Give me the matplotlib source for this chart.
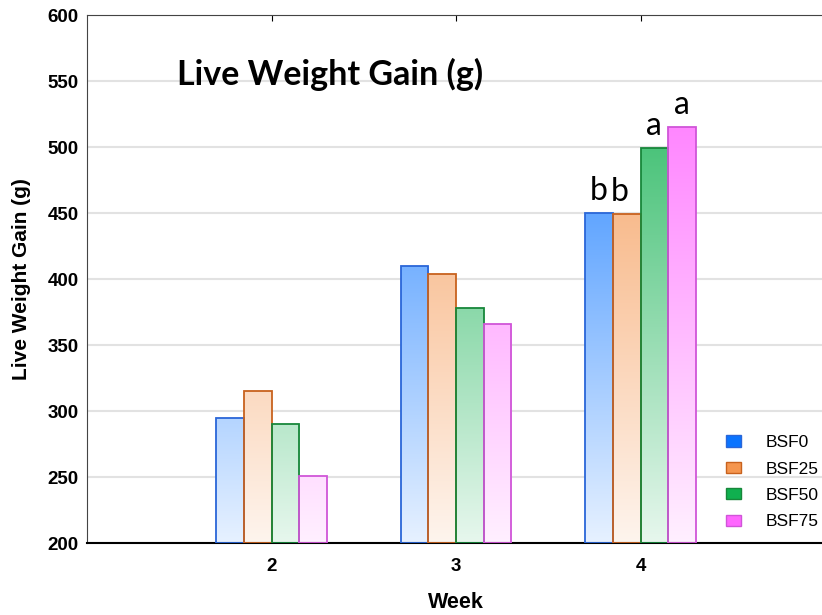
import numpy as np
import matplotlib
matplotlib.use("Agg")
import matplotlib.pyplot as plt
from matplotlib.patches import Rectangle, Patch
from matplotlib.colors import to_rgb

# data
weeks = [2, 3, 4]
groups = ["BSF0", "BSF25", "BSF50", "BSF75"]
gain = {
    "BSF0": [295, 410, 450],
    "BSF25": [315, 404, 449],
    "BSF50": [290, 378, 499],
    "BSF75": [251, 366, 515],
}
letters = {
    "BSF0": ["", "", "b"],
    "BSF25": ["", "", "b"],
    "BSF50": ["", "", "a"],
    "BSF75": ["", "", "a"],
}

fills = {"BSF0": "#0a74ff", "BSF25": "#f5964f", "BSF50": "#10b04f", "BSF75": "#ff66ff"}
edges = {"BSF0": "#2a66d8", "BSF25": "#c8621e", "BSF50": "#17873a", "BSF75": "#d055d8"}

ymin, ymax = 200, 600
bar_w = 0.15

plt.rcParams["font.family"] = ["Liberation Sans", "DejaVu Sans"]

fig = plt.figure(figsize=(8.22, 6.15), dpi=100)
ax = fig.add_axes([87 / 822, 1 - 543 / 615, 738 / 822, 528 / 615])


def gradient_img(color):
    """Column image from pale (ymin) to full colour (ymax)."""
    c = np.array(to_rgb(color))
    t = np.linspace(0, 1, 256)[:, None]
    f = 0.1 + 0.87 * t
    img = c[None, :] * f + (1 - f)
    return img[:, None, :]


for i, g in enumerate(groups):
    img = gradient_img(fills[g])
    for j, wk in enumerate(weeks):
        x0 = wk + (i - 2) * bar_w
        val = gain[g][j]
        rect = Rectangle((x0, ymin), bar_w, val - ymin, facecolor="none",
                         edgecolor=edges[g], linewidth=1.3, zorder=3)
        ax.add_patch(rect)
        im = ax.imshow(img, extent=[x0, x0 + bar_w, ymin, ymax], origin="lower",
                       aspect="auto", zorder=2, interpolation="bilinear")
        im.set_clip_path(rect)
        if letters[g][j]:
            dx = -5 if g == "BSF25" else 0
            ax.annotate(letters[g][j], (x0 + bar_w / 2, val), xytext=(dx, 5),
                        textcoords="offset points", ha="center", va="bottom",
                        fontsize=23, family=["Lato", "DejaVu Sans"])

ax.set_xlim(1, 5)
ax.set_ylim(ymin, ymax)
ax.set_xticks(weeks)
ax.set_yticks(np.arange(200, 601, 50))
ax.tick_params(axis="x", direction="in", length=4, top=True, bottom=False,
               labelbottom=True, labelsize=13.5, pad=11)
ax.tick_params(axis="y", length=0, labelsize=13.5, pad=6)
for lab in ax.get_xticklabels() + ax.get_yticklabels():
    lab.set_fontweight("bold")
ax.grid(axis="y", color="#e2e2e2", linewidth=1.5, zorder=0)
ax.set_axisbelow(True)
ax.spines["right"].set_visible(False)
ax.spines["left"].set_color("#444444")
ax.spines["bottom"].set_color("black")
ax.spines["bottom"].set_linewidth(1.5)
ax.spines["top"].set_color("#444444")

ax.set_xlabel("Week", fontsize=15.5, fontweight="bold", labelpad=12)
ax.set_ylabel("Live Weight Gain (g)", fontsize=15, fontweight="bold", labelpad=12)

ax.text(0.122, 0.888, "Live Weight Gain (g)", transform=ax.transAxes,
        fontsize=24.5, fontweight="bold", family=["Lato", "DejaVu Sans"], va="center")

handles = [Patch(facecolor=fills[g], edgecolor=edges[g]) for g in groups]
ax.legend(handles, groups, loc="lower right", bbox_to_anchor=(1.012, -0.004),
          frameon=False, fontsize=12.5, handlelength=0.86, handleheight=0.6,
          labelspacing=0.66, handletextpad=1.4)

fig.savefig("out.png", dpi=100)
